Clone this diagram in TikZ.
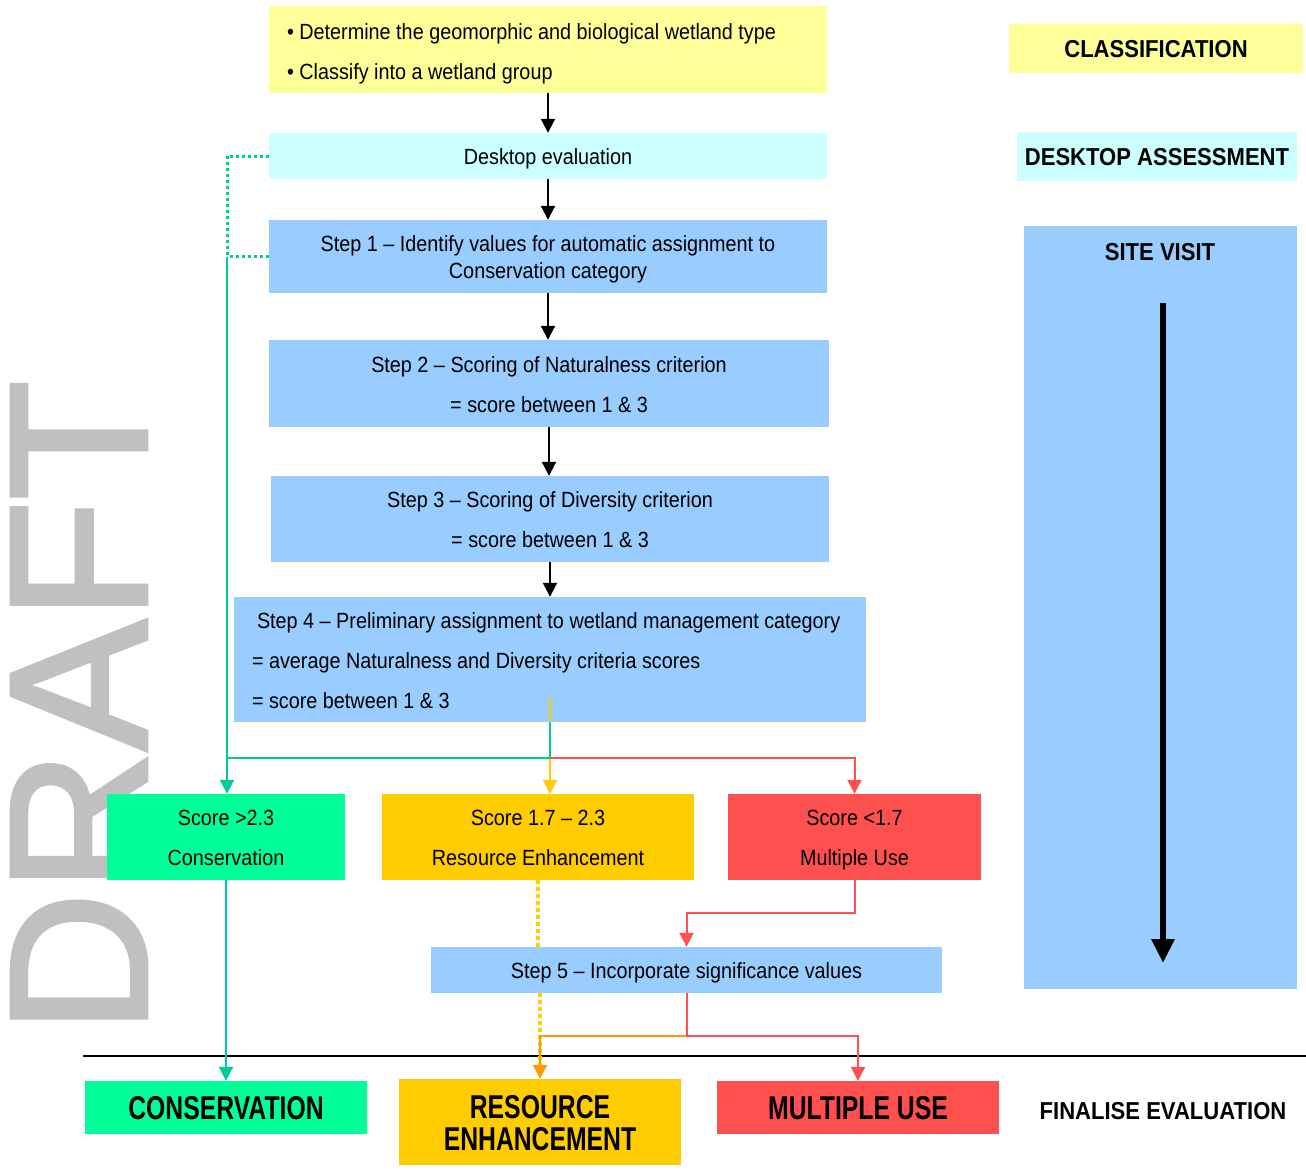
\documentclass[tikz,border=0pt]{standalone}
\usepackage{fontspec}
\setmainfont[FakeStretch=0.9]{Liberation Sans}
\newfontfamily\draftfont[FakeBold=2]{Liberation Sans}
\newfontfamily\narrowfont[FakeStretch=0.75]{Liberation Sans}
\usetikzlibrary{arrows.meta,calc}
\definecolor{cYel}{HTML}{FFFF99}
\definecolor{cCyan}{HTML}{CCFFFF}
\definecolor{cBlue}{HTML}{99CCFF}
\definecolor{cGreen}{HTML}{00FF99}
\definecolor{cGold}{HTML}{FFCC00}
\definecolor{cRed}{HTML}{FF5050}
\definecolor{cGL}{HTML}{00CC99}
\definecolor{cOr}{HTML}{FF9900}
\definecolor{cDraft}{HTML}{C0C0C0}
\newcommand\fsz[2]{\fontsize{#1}{#2}\selectfont\lineskiplimit=-100pt\relax}
\newcommand\st{\rule[-0.212em]{0pt}{\dimexpr1.117em+2pt\relax}}
\begin{document}
\begin{tikzpicture}[x=1pt,y=-1pt,
  box/.style={inner sep=0pt, align=center, font=\fsz{22}{40}},
  txt/.style={inner sep=0pt, align=left, font=\fsz{22}{40}, anchor=west},
  side/.style={inner sep=0pt, align=center, font=\bfseries\fsz{24.5}{28}},
  fin/.style={inner sep=0pt, align=center, font=\narrowfont\bfseries\fsz{33}{32}},
  arr/.style={line width=2pt, -{Triangle[width=14pt,length=14pt]}},
  blackarr/.style={arr, draw=black},
  greenarr/.style={arr, draw=cGL, fill=cGL},
  redarr/.style={arr, draw=cRed},
  goldarr/.style={arr, draw=cGold},
  orarr/.style={arr, draw=cOr},
  greendot/.style={draw=cGL, line width=3pt, dash pattern=on 3pt off 3pt},
  golddot/.style={draw=cGold, line width=4.5pt, dash pattern=on 4pt off 3pt}
]
\useasboundingbox (0,0) rectangle (1306,1171);
\fill[white] (0,0) rectangle (1306,1171);

% DRAFT watermark
\node[rotate=90, inner sep=0pt, text=cDraft, font=\draftfont\fsz{196}{196}] (draft) at (79,707) {DRAFT};

% main column
\node[box, fill=cYel, minimum width=558, minimum height=87] (cls) at (548,49.5) {};
\node[txt] (clst) at ($(cls.west)+(18,1)$)
  {\st\textbullet\ Determine the geomorphic and biological wetland type\\ \st\textbullet\ Classify into a wetland group};
\node[box, fill=cCyan, minimum width=558, minimum height=46] (desk) at (548,156) {\st Desktop evaluation};
\node[box, fill=cBlue, minimum width=558, minimum height=73, font=\fsz{22}{27}] (s1) at (548,256.5)
  {\st Step 1 -- Identify values for automatic assignment to\\\st Conservation category};
\node[box, fill=cBlue, minimum width=560, minimum height=87] (s2) at (549,383.5)
  {\st Step 2 -- Scoring of Naturalness criterion\\\st = score between 1 \& 3};
\node[box, fill=cBlue, minimum width=558, minimum height=86] (s3) at (550,519)
  {\st Step 3 -- Scoring of Diversity criterion\\\st = score between 1 \& 3};
\node[box, fill=cBlue, minimum width=632, minimum height=125] (s4) at (550,659.5) {};
\node[txt] (s4t) at ($(s4.west)+(18,0)$)
  {\st\hspace{5pt}Step 4 -- Preliminary assignment to wetland management category\\\st = average Naturalness and Diversity criteria scores\\\st = score between 1 \& 3};

\node[box, fill=cGreen, minimum width=238, minimum height=86] (sc1) at (226,837) {\st Score >2.3\\\st Conservation};
\node[box, fill=cGold, minimum width=312, minimum height=86] (sc2) at (538,837) {\st Score 1.7 -- 2.3\\\st Resource Enhancement};
\node[box, fill=cRed, minimum width=253, minimum height=86] (sc3) at (854.5,837) {\st Score <1.7\\\st Multiple Use};

\node[box, fill=cBlue, minimum width=511, minimum height=46] (s5) at (686.5,970) {\st Step 5 -- Incorporate significance values};

\node[fin, fill=cGreen, minimum width=282, minimum height=53] (f1) at (226,1107.5) {\st CONSERVATION};
\node[fin, fill=cGold, minimum width=282, minimum height=86] (f2) at (540,1122) {\st RESOURCE\\\st ENHANCEMENT};
\node[fin, fill=cRed, minimum width=282, minimum height=53] (f3) at (858,1107.5) {\st MULTIPLE USE};

% right column
\node[side, fill=cYel, minimum width=294, minimum height=49] (lc) at (1156,48.5) {\st CLASSIFICATION};
\node[side, fill=cCyan, minimum width=280, minimum height=49] (ld) at (1157,156.5) {\st DESKTOP ASSESSMENT};
\node[fill=cBlue, minimum width=273, minimum height=763, inner sep=0pt] (ls) at (1160.5,607.5) {};
\node[side] (lst) at (1160,251) {\st SITE VISIT};
\node[side] (lf) at (1163,1110) {\st FINALISE EVALUATION};
\coordinate (sva) at (1163,303);
\coordinate (svb) at (1163,963);
\draw[line width=6pt, -{Triangle[width=22pt,length=24pt]}] (sva) -- (svb);

% separator line
\coordinate (la) at (83,1056);
\coordinate (lb) at (1306,1056);
\draw[line width=1.6pt] (la) -- (lb);

% black flow arrows
\draw[blackarr] (cls.south) -- (desk.north);
\draw[blackarr] (desk.south) -- (s1.north);
\draw[blackarr] (s1.south) -- (s1.south |- s2.north);
\draw[blackarr] (s2.south) -- (s2.south |- s3.north);
\draw[blackarr] (s3.south) -- (s3.south |- s4.north);

% green dotted feeds
\coordinate (gx) at (227,256.5);
\draw[greendot] (desk.west) -| (gx);
\draw[greendot] (s1.west) -- (gx);

% branches from step 4
\coordinate (y4) at ($(s4.south)+(0,-24)$);
\coordinate (j4) at ($(s4.south)+(0,36)$);
\draw[goldarr] (y4) -- (y4 |- sc2.north);
\draw[draw=cGL, line width=2pt] (s4.south) -- (j4) -- (gx |- j4);
\draw[greenarr] (gx) -- (gx |- sc1.north);
\draw[redarr] (j4) -| (sc3.north);

% lower connectors
\draw[greenarr] (sc1.south) -- (f1.north);
\draw[golddot] (sc2.south) -- (sc2.south |- s5.north);
\draw[golddot] (f2.north |- s5.south) -- ($(f2.north)+(0,-12)$);
\draw[redarr] (sc3.south) -- ++(0,33) -| (s5.north);
\coordinate (j5) at ($(s5.south)+(0,43)$);
\draw[orarr] (j5) -| (f2.north);
\draw[redarr] (s5.south) -- (j5) -| (f3.north);
\end{tikzpicture}
\end{document}
